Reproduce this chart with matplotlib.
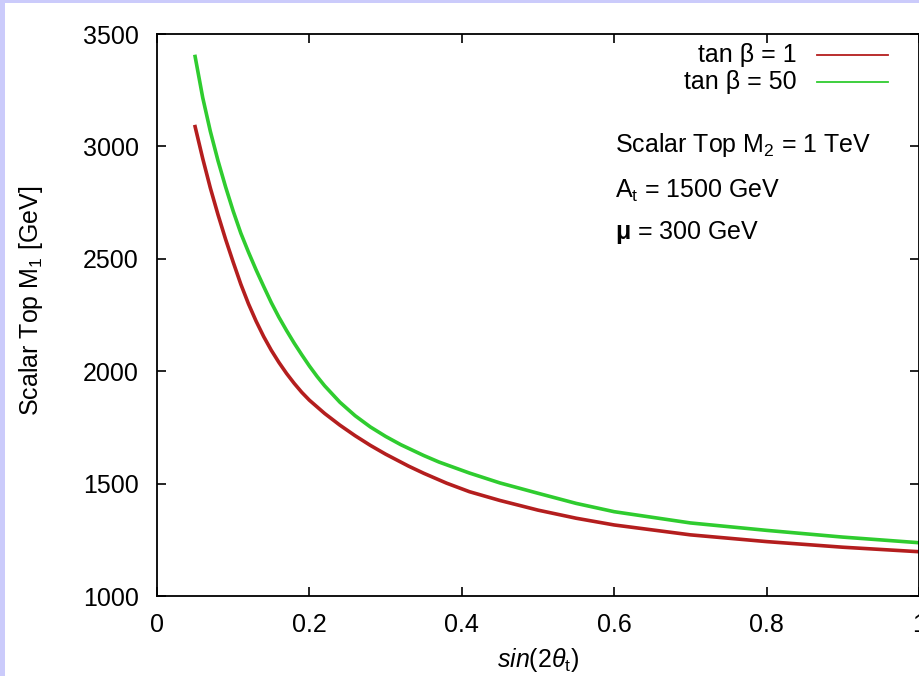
import matplotlib

matplotlib.use("Agg")
import matplotlib.pyplot as plt
from matplotlib.patches import Rectangle

plt.rcParams["font.family"] = ["Liberation Sans", "DejaVu Sans"]
plt.rcParams["mathtext.fontset"] = "custom"
plt.rcParams["mathtext.rm"] = "Liberation Sans"
plt.rcParams["mathtext.it"] = "Liberation Sans:italic"
plt.rcParams["mathtext.bf"] = "Liberation Sans:bold"

# sin(2 theta_t) vs scalar top M1 [GeV]
x_tb1 = [0.05, 0.06, 0.07, 0.08, 0.09, 0.10, 0.11, 0.12, 0.13, 0.14, 0.15, 0.16, 0.17,
         0.18, 0.19, 0.20, 0.22, 0.24, 0.26, 0.28, 0.30, 0.33, 0.35, 0.38, 0.41, 0.45,
         0.50, 0.55, 0.60, 0.70, 0.80, 0.90, 1.00]
m1_tb1 = [3088, 2946, 2815, 2697, 2587, 2485, 2387, 2300, 2223, 2154, 2093, 2039, 1990,
          1946, 1906, 1871, 1812, 1760, 1713, 1670, 1631, 1578, 1546, 1502, 1464, 1425,
          1382, 1346, 1316, 1272, 1242, 1217, 1197]

x_tb50 = [0.05, 0.06, 0.07, 0.08, 0.09, 0.10, 0.11, 0.12, 0.13, 0.14, 0.15, 0.16, 0.17,
          0.18, 0.19, 0.20, 0.21, 0.22, 0.24, 0.26, 0.28, 0.30, 0.32, 0.35, 0.37, 0.41,
          0.45, 0.50, 0.55, 0.60, 0.70, 0.80, 0.90, 1.00]
m1_tb50 = [3400, 3217, 3067, 2937, 2820, 2712, 2614, 2530, 2451, 2377, 2305, 2240, 2181,
           2125, 2073, 2023, 1977, 1935, 1862, 1802, 1752, 1710, 1673, 1625, 1596, 1547,
           1503, 1457, 1412, 1375, 1325, 1292, 1262, 1237]

labels = ["tan β = 1", "tan β = 50"]
colors = ["#b41e1e", "#2fcc2f"]

x_ticks = [0, 0.2, 0.4, 0.6, 0.8, 1]
x_ticklabels = ["0", "0.2", "0.4", "0.6", "0.8", "1"]
y_ticks = [1000, 1500, 2000, 2500, 3000, 3500]

fig = plt.figure(figsize=(9.2, 6.76), dpi=100)
fig.patch.set_facecolor("#cbcbfb")
fig.patches.append(Rectangle((5 / 920, 0), 1, 1 - 3 / 676, transform=fig.transFigure,
                             facecolor="white", edgecolor="none", zorder=-10))

ax = fig.add_axes([157 / 920, 1 - 596 / 676, 762 / 920, 562 / 676])
ax.set_facecolor("white")

ax.plot(x_tb1, m1_tb1, color=colors[0], lw=2.6, solid_joinstyle="round")
ax.plot(x_tb50, m1_tb50, color=colors[1], lw=2.6, solid_joinstyle="round")

ax.set_xlim(0, 1)
ax.set_ylim(1000, 3500)
ax.set_xticks(x_ticks)
ax.set_xticklabels(x_ticklabels)
ax.set_yticks(y_ticks)
ax.tick_params(direction="in", length=6.5, width=1.2, top=True, right=True,
               labelsize=18, colors="black")
ax.tick_params(axis="y", pad=13)
ax.tick_params(axis="x", pad=12)
for sp in ax.spines.values():
    sp.set_linewidth(1.3)

# gnuplot-style key: text right-aligned, short line sample to its right
for i, (lab, col) in enumerate(zip(labels, colors)):
    yk = 55 + i * 26.5
    fy = 1 - yk / 676
    fig.text(797 / 920, fy, lab, ha="right", va="center", fontsize=18)
    fig.lines.append(plt.Line2D([817 / 920, 888 / 920], [fy, fy], transform=fig.transFigure,
                                color=col, lw=1.3))

fig.text(615 / 920, 1 - 145 / 676, "Scalar Top M$_2$ = 1 TeV", ha="left", va="center", fontsize=18)
fig.text(615 / 920, 1 - 191 / 676, r"A$_\mathrm{t}$ = 1500 GeV", ha="left", va="center", fontsize=18)
fig.text(615 / 920, 1 - 233 / 676, r"$\mathbf{\mu}$ = 300 GeV", ha="left", va="center", fontsize=18)

fig.text(538 / 920, 1 - 660 / 676, r"$sin(2\theta_\mathrm{t})$", ha="center", va="center", fontsize=18)
fig.text(31 / 920, 1 - 301 / 676, "Scalar Top M$_1$ [GeV]", ha="center", va="center",
         rotation=90, fontsize=18)

fig.savefig("out.png", dpi=100)
